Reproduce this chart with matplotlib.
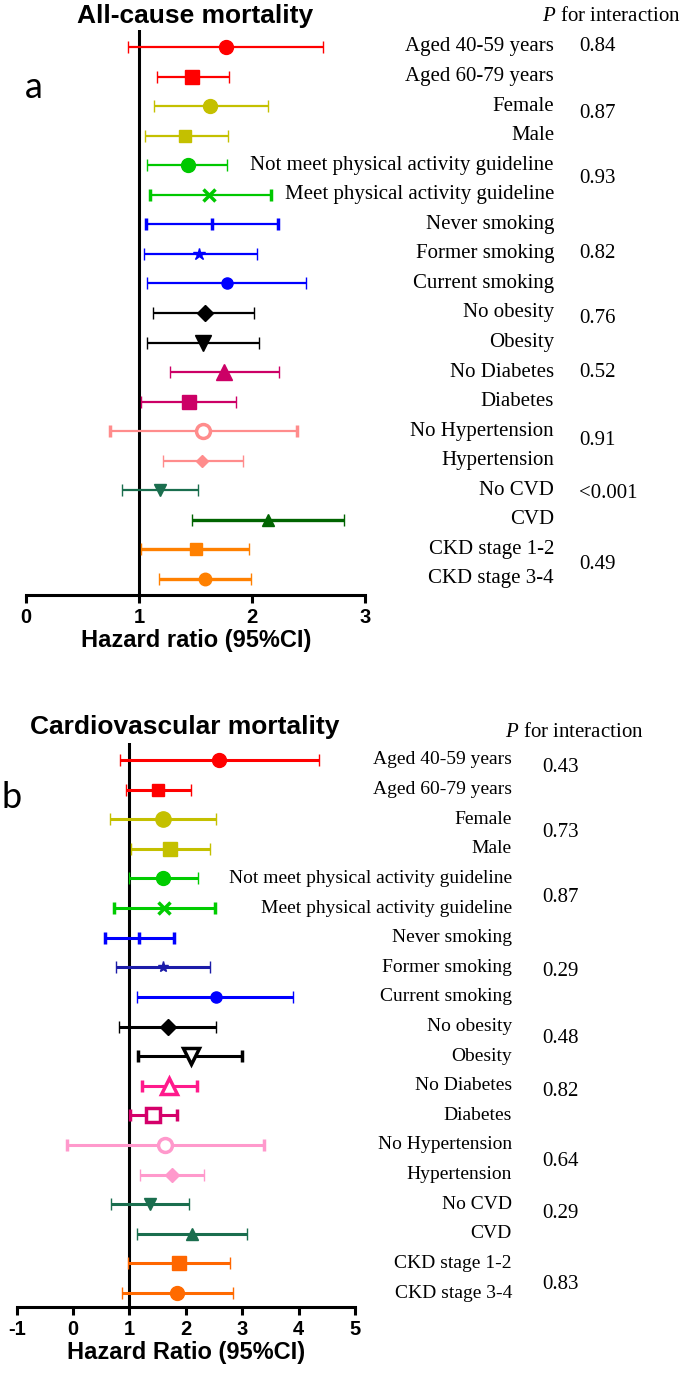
import matplotlib
matplotlib.use("Agg")
import matplotlib.pyplot as plt
from matplotlib.transforms import blended_transform_factory

plt.rcParams['mathtext.fontset'] = 'custom'
plt.rcParams['mathtext.it'] = 'Liberation Serif:italic'
plt.rcParams['mathtext.rm'] = 'Liberation Serif'

# subgroup labels (same for both panels)
groups = ["Aged 40-59 years", "Aged 60-79 years", "Female", "Male",
          "Not meet physical activity guideline", "Meet physical activity guideline",
          "Never smoking", "Former smoking", "Current smoking",
          "No obesity", "Obesity", "No Diabetes", "Diabetes",
          "No Hypertension", "Hypertension", "No CVD", "CVD",
          "CKD stage 1-2", "CKD stage 3-4"]

# a: all-cause mortality
hr_all = [1.77, 1.47, 1.63, 1.41, 1.43, 1.62, 1.65, 1.53, 1.78, 1.58,
          1.57, 1.75, 1.44, 1.57, 1.56, 1.19, 2.14, 1.50, 1.58]
lo_all = [0.90, 1.16, 1.13, 1.05, 1.07, 1.10, 1.06, 1.04, 1.07, 1.12,
          1.07, 1.27, 1.02, 0.74, 1.21, 0.85, 1.47, 1.02, 1.18]
hi_all = [2.63, 1.80, 2.14, 1.79, 1.78, 2.17, 2.23, 2.04, 2.48, 2.02,
          2.06, 2.24, 1.86, 2.40, 1.92, 1.52, 2.81, 1.97, 1.99]
p_all = ["0.84", "0.87", "0.93", "0.82", "0.76", "0.52", "0.91", "<0.001", "0.49"]

# b: cardiovascular mortality
hr_cv = [2.59, 1.50, 1.60, 1.72, 1.60, 1.61, 1.17, 1.59, 2.53, 1.68,
         2.09, 1.71, 1.42, 1.63, 1.75, 1.36, 2.11, 1.88, 1.85]
lo_cv = [0.84, 0.93, 0.65, 1.03, 0.99, 0.73, 0.57, 0.76, 1.14, 0.82,
         1.15, 1.23, 1.01, -0.11, 1.19, 0.67, 1.14, 0.97, 0.87]
hi_cv = [4.36, 2.09, 2.53, 2.42, 2.21, 2.52, 1.79, 2.42, 3.90, 2.53,
         2.99, 2.19, 1.84, 3.39, 2.33, 2.05, 3.08, 2.78, 2.84]
p_cv = ["0.43", "0.73", "0.87", "0.29", "0.48", "0.82", "0.64", "0.29", "0.83"]

# styles
p_rows_all = [0, 2.25, 4.46, 7.0, 9.2, 11.0, 13.3, 15.1, 17.5]
p_rows_cv = [0.27, 2.45, 4.63, 7.15, 9.4, 11.2, 13.56, 15.3, 17.7]

col_all = ['#ff0000', '#ff0000', '#c4c000', '#c4c000', '#00c800', '#00c800',
           '#0000ff', '#0000ff', '#0000ff', '#000000', '#000000', '#cc0066',
           '#cc0066', '#ff8c8c', '#ff8c8c', '#1a6e4e', '#006400', '#ff8000', '#ff8000']
col_cv = ['#ff0000', '#ff0000', '#c4c000', '#c4c000', '#00cc00', '#00cc00',
          '#0000ff', '#1c1ca8', '#0000ff', '#000000', '#000000', '#ff1a8c',
          '#d4006a', '#ff99cc', '#ff99cc', '#1a6e4e', '#1a6e4e', '#ff6600', '#ff6a00']
mk_all = ['o', 's', 'o', 's', 'o', 'x', '|', '*', 'o', 'D', 'v', '^', 's',
          'o', 'D', 'v', '^', 's', 'o']
ms_all = [10, 10, 10, 9, 10, 8, 9, 9, 8, 8, 11, 11, 10, 10, 6, 8, 9, 9, 9]
open_all = [False] * 13 + [True] + [False] * 5
lw_all = [1.6] * 16 + [2.4, 2.4, 2.4]

mk_cv = ['o', 's', 'o', 's', 'o', 'x', '|', '*', 'o', 'D', 'v', '^', 's',
         'o', 'D', 'v', '^', 's', 'o']
ms_cv = [10, 9, 11, 10, 10, 9, 9, 8, 8, 8, 11, 11, 10, 10, 7, 9, 9, 10, 10]
open_cv = [False] * 10 + [True, True, True, True] + [False] * 5
lw_cv = [2.2] * 19

W, H = 685, 1377
fig = plt.figure(figsize=(W / 100, H / 100), dpi=100)


def panel(left, right, top, bottom, row0, row_last, xlim, ticks,
          hr, lo, hi, cols, mks, mss, opens, lws, capsize):
    ax = fig.add_axes([left / W, 1 - bottom / H, (right - left) / W, (bottom - top) / H])
    sp = (row_last - row0) / 18
    ax.set_ylim(18 + (bottom - row_last) / sp, -(row0 - top) / sp)
    ax.set_xlim(*xlim)
    for s in ['top', 'right', 'left']:
        ax.spines[s].set_visible(False)
    ax.spines['bottom'].set_linewidth(2.2)
    ax.set_yticks([])
    ax.set_xticks(ticks)
    ax.set_xticklabels([str(t) for t in ticks], fontsize=14.5,
                       fontweight='bold', family='Liberation Sans')
    ax.tick_params(axis='x', direction='out', length=5.5, width=2.2, pad=4)
    ax.axvline(1, color='black', lw=2.2, zorder=1)
    for i in range(len(hr)):
        ax.errorbar(hr[i], i, xerr=[[hr[i] - lo[i]], [hi[i] - hr[i]]],
                    fmt=mks[i], color=cols[i], ms=mss[i], elinewidth=lws[i],
                    capsize=capsize, capthick=lws[i],
                    mfc='white' if opens[i] else cols[i], mec=cols[i],
                    mew=2.5 if mks[i] in ('x', '|') or opens[i] else 1,
                    zorder=3, clip_on=False)
    return ax


ax1 = panel(26, 365, 30, 595, 47, 579, (0, 3), [0, 1, 2, 3],
            hr_all, lo_all, hi_all, col_all, mk_all, ms_all, open_all, lw_all, 4)
ax2 = panel(16.7, 355, 743, 1307, 760, 1293, (-1, 5), [-1, 0, 1, 2, 3, 4, 5],
            hr_cv, lo_cv, hi_cv, col_cv, mk_cv, ms_cv, open_cv, lw_cv, 4.5)

for ax, lab_x, p_x, head_x, head_row, fs, prows, pv in [
        (ax1, 554, 579, 542, -1.02, 15, p_rows_all, p_all),
        (ax2, 512, 542, 505, -0.93, 14, p_rows_cv, p_cv)]:
    tr = blended_transform_factory(fig.transFigure, ax.transData)
    for i, g in enumerate(groups):
        fig.text(lab_x / W, i, g, transform=tr, ha='right', va='center',
                 fontsize=fs, family='Liberation Serif')
    for r, p in zip(prows, pv):
        fig.text(p_x / W, r, p, transform=tr, ha='left', va='center',
                 fontsize=15, family='Liberation Serif')
    fig.text(head_x / W, head_row, r'$\mathit{P}$ for interaction', transform=tr,
             ha='left', va='center', fontsize=15, family='Liberation Serif')

fig.text(195 / W, 1 - 16 / H, "All-cause mortality", ha='center', va='center',
         fontsize=19, fontweight='bold', family='Liberation Sans')
fig.text(185 / W, 1 - 727 / H, "Cardiovascular mortality", ha='center', va='center',
         fontsize=19, fontweight='bold', family='Liberation Sans')
fig.text(196 / W, 1 - 640 / H, "Hazard ratio (95%CI)", ha='center', va='center',
         fontsize=17, fontweight='bold', family='Liberation Sans')
fig.text(186 / W, 1 - 1353 / H, "Hazard Ratio (95%CI)", ha='center', va='center',
         fontsize=17, fontweight='bold', family='Liberation Sans')
fig.text(34 / W, 1 - 88 / H, "a", ha='center', va='center', fontsize=26, family='Lato')
fig.text(12 / W, 1 - 797 / H, "b", ha='center', va='center', fontsize=26, family='Lato')

fig.savefig("out.png", dpi=100)
